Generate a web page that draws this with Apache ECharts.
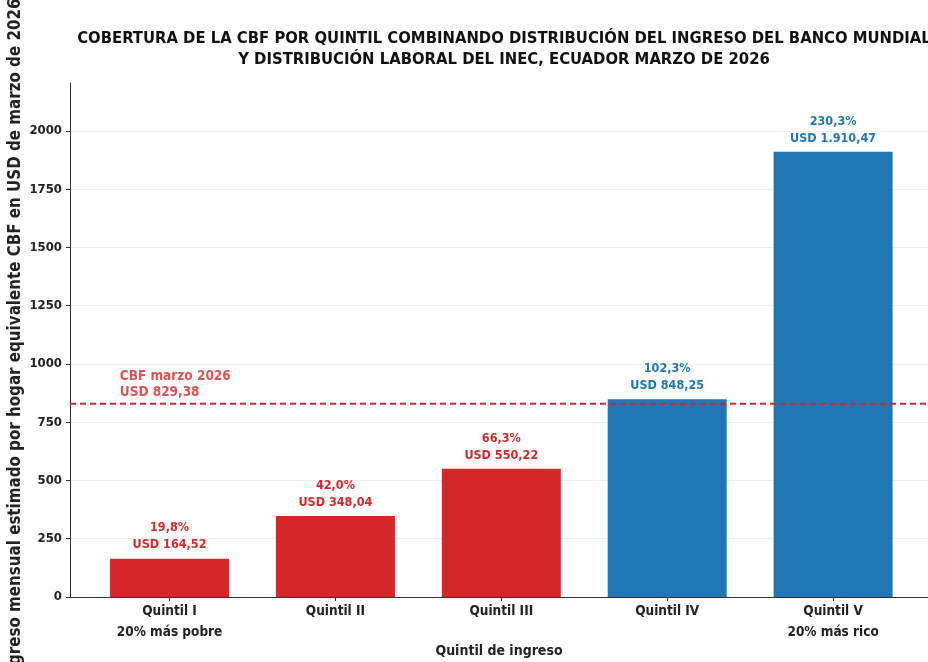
<!DOCTYPE html>
<html><head><meta charset="utf-8">
<script src="https://cdn.jsdelivr.net/npm/echarts@6/dist/echarts.min.js"></script>
<style>html,body{margin:0;padding:0;background:#fff}#c{width:928px;height:662px}</style>
</head><body><div id="c"></div>
<script>
const categories = ["Quintil I\n20% más pobre", "Quintil II", "Quintil III", "Quintil IV", "Quintil V\n20% más rico"];
const values = [164.52, 348.04, 550.22, 848.25, 1910.47];
const coverage = ["19,8%", "42,0%", "66,3%", "102,3%", "230,3%"];
const usdLabels = ["USD 164,52", "USD 348,04", "USD 550,22", "USD 848,25", "USD 1.910,47"];
const cbfValue = 829.38;
const cbfLabel = "CBF marzo 2026\nUSD 829,38";
const yTicks = [0, 250, 500, 750, 1000, 1250, 1500, 1750, 2000];

const RED = "#d62728", BLUE = "#1f77b4";
const FONT = "DejaVu Sans Condensed, DejaVu Sans";
const chart = echarts.init(document.getElementById('c'), null, {renderer: 'canvas'});
const barData = values.map((v, i) => ({
  value: [i, v],
  itemStyle: {color: v >= cbfValue ? BLUE : RED},
  label: {color: v >= cbfValue ? BLUE : RED}
}));
chart.setOption({
  animation: false,
  backgroundColor: '#fff',
  title: {
    text: "COBERTURA DE LA CBF POR QUINTIL COMBINANDO DISTRIBUCIÓN DEL INGRESO DEL BANCO MUNDIAL\nY DISTRIBUCIÓN LABORAL DEL INEC, ECUADOR MARZO DE 2026",
    left: 499, top: 23, textAlign: 'center',
    textStyle: {fontFamily: FONT, fontWeight: 'bold', fontSize: 16.5, color: '#111', lineHeight: 21}
  },
  grid: {left: 70, right: 0, top: 83, bottom: 65, containLabel: false, outerBoundsMode: 'none'},
  xAxis: {
    type: 'value', min: -0.6, max: 4.572,
    splitLine: {show: false},
    axisLine: {show: true, onZero: false, lineStyle: {color: '#333', width: 1}},
    axisTick: {show: true, customValues: [0, 1, 2, 3, 4], length: 4, lineStyle: {color: '#333'}},
    axisLabel: {
      customValues: [0, 1, 2, 3, 4],
      formatter: v => categories[Math.round(v)] || '',
      fontFamily: FONT, fontWeight: 'bold', fontSize: 13.5, color: '#222', lineHeight: 21, margin: 4
    },
    name: "Quintil de ingreso", nameLocation: 'middle', nameGap: 47, nameMoveOverlap: false,
    nameTextStyle: {fontFamily: FONT, fontWeight: 'bold', fontSize: 14, color: '#222'}
  },
  yAxis: {
    type: 'value', min: 0, max: 2206, interval: 250,
    axisLine: {show: true, onZero: false, lineStyle: {color: '#333', width: 1}},
    axisTick: {show: true, length: 4, lineStyle: {color: '#333'}},
    axisLabel: {fontFamily: FONT, fontWeight: 'bold', fontSize: 13, color: '#222', margin: 8, showMaxLabel: false,
      formatter: v => yTicks.includes(v) ? String(v) : ''},
    splitLine: {show: true, showMaxLine: false, lineStyle: {color: '#efefef', width: 1}},
    name: "Ingreso mensual estimado por hogar equivalente CBF en USD de marzo de 2026",
    nameLocation: 'middle', nameGap: 46, nameMoveOverlap: false,
    nameTextStyle: {fontFamily: FONT, fontWeight: 'bold', fontSize: 16.8, color: '#222'}
  },
  series: [
    {
      type: 'bar', data: barData, barWidth: 119, z: 2,
      label: {
        show: true, position: 'top', distance: 5,
        formatter: p => coverage[p.dataIndex] + "\n" + usdLabels[p.dataIndex],
        fontFamily: FONT, fontWeight: 'bold', fontSize: 12.5, lineHeight: 17
      }
    },
    {
      type: 'line', data: [[-0.6, cbfValue], [4.572, cbfValue]], symbol: 'none', z: 5,
      lineStyle: {color: RED, width: 2, type: [6, 4]}
    },
    {
      type: 'scatter', data: [[-0.3, cbfValue]], symbolSize: 0, z: 6,
      label: {show: true, position: 'top', align: 'left', distance: 3, formatter: cbfLabel,
        fontFamily: FONT, fontWeight: 'bold', fontSize: 13.5, color: RED, lineHeight: 16}
    }
  ]
});
</script></body></html>
